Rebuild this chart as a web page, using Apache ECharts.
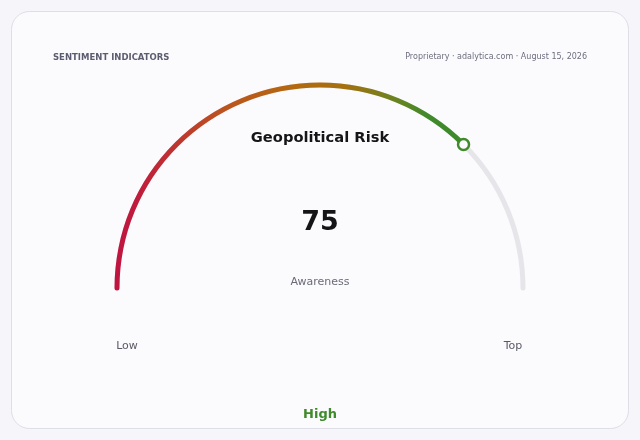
<!DOCTYPE html>
<html>
<head>
<meta charset="utf-8">
<script src="https://cdn.jsdelivr.net/npm/echarts@6/dist/echarts.min.js"></script>
<style>
  html, body { margin: 0; padding: 0; background: #f5f5fa; }
  #chart { width: 640px; height: 440px; }
</style>
</head>
<body>
<div id="chart"></div>
<script>
// data
const gaugeValue = 75;
const gaugeRange = [0, 100];
const metricTitle = 'Geopolitical Risk';
const metricName = 'Awareness';
const endLabels = ['Low', 'Top'];
const bandLabel = 'High';
const headerLeft = 'SENTIMENT INDICATORS';
const headerRight = 'Proprietary · adalytica.com · August 15, 2026';

const FONT = 'DejaVu Sans';
const cx = 320, cy = 288, r = 205.5, lw = 5;

var chart = echarts.init(document.getElementById('chart'));

// gradient runs left to right over the filled part of the arc
var arcGrad = new echarts.graphic.LinearGradient(117, 0, 463, 0, [
  { offset: 0, color: '#bf1440' },
  { offset: 0.08, color: '#c0203a' },
  { offset: 0.3, color: '#bc5220' },
  { offset: 0.5, color: '#b4680f' },
  { offset: 0.66, color: '#a5700e' },
  { offset: 0.8, color: '#6c8220' },
  { offset: 0.9, color: '#3f8a2a' },
  { offset: 1, color: '#3d8a2a' }
], true);

var option = {
  backgroundColor: '#f5f5fa',
  graphic: [
    { type: 'rect', z: -10, shape: { x: 11.5, y: 11.5, width: 617, height: 417, r: 18 },
      style: { fill: '#fbfbfe', stroke: '#dedee8', lineWidth: 1 } },
    { type: 'text', left: 53, top: 53, style: { text: headerLeft, font: 'bold 8.5px ' + FONT, fill: '#5c5c70' } },
    { type: 'text', right: 53, top: 53, style: { text: headerRight, font: '8px ' + FONT, fill: '#6e6e7e' } },
    { type: 'text', x: 127, y: 346, style: { text: endLabels[0], font: '11px ' + FONT, fill: '#5a5a66', align: 'center', verticalAlign: 'middle' } },
    { type: 'text', x: 513, y: 346, style: { text: endLabels[1], font: '11px ' + FONT, fill: '#5a5a66', align: 'center', verticalAlign: 'middle' } },
    { type: 'text', x: 320, y: 415, style: { text: bandLabel, font: 'bold 13px ' + FONT, fill: '#3f8a2a', align: 'center', verticalAlign: 'middle' } }
  ],
  polar: { center: [cx, cy], radius: [0, r - lw / 2] },
  angleAxis: { type: 'value', min: 0, max: (gaugeRange[1] - gaugeRange[0]) * 2, startAngle: 180, clockwise: true, show: false },
  radiusAxis: { type: 'value', min: 0, max: 1, show: false },
  series: [
    {
      type: 'gauge',
      center: [cx, cy],
      radius: r,
      startAngle: 180,
      endAngle: 0,
      min: gaugeRange[0],
      max: gaugeRange[1],
      axisLine: { roundCap: true, lineStyle: { width: lw, color: [[1, '#e6e6ea']] } },
      progress: { show: true, roundCap: true, width: lw, itemStyle: { color: arcGrad } },
      pointer: { show: false },
      axisTick: { show: false },
      splitLine: { show: false },
      axisLabel: { show: false },
      anchor: { show: false },
      title: { offsetCenter: [0, -6], fontFamily: FONT, fontSize: 11, color: '#6b6b78' },
      detail: { offsetCenter: [0, -65], fontFamily: FONT, fontSize: 27, fontWeight: 'bold', color: '#151518', valueAnimation: false },
      data: [{ value: gaugeValue, name: metricName }],
      animation: false
    },
    {
      type: 'scatter',
      coordinateSystem: 'polar',
      symbol: 'circle',
      symbolSize: 11,
      itemStyle: { color: '#fbfbfe', borderColor: '#3f8a2a', borderWidth: 2.5, opacity: 1 },
      data: [[1, gaugeValue - gaugeRange[0]]],
      z: 10,
      silent: true,
      animation: false
    }
  ],
  title: {
    text: metricTitle, left: 'center', top: 126,
    textStyle: { fontFamily: FONT, fontSize: 14.7, fontWeight: 'bold', color: '#151518' }
  }
};
chart.setOption(option);
</script>
</body>
</html>
